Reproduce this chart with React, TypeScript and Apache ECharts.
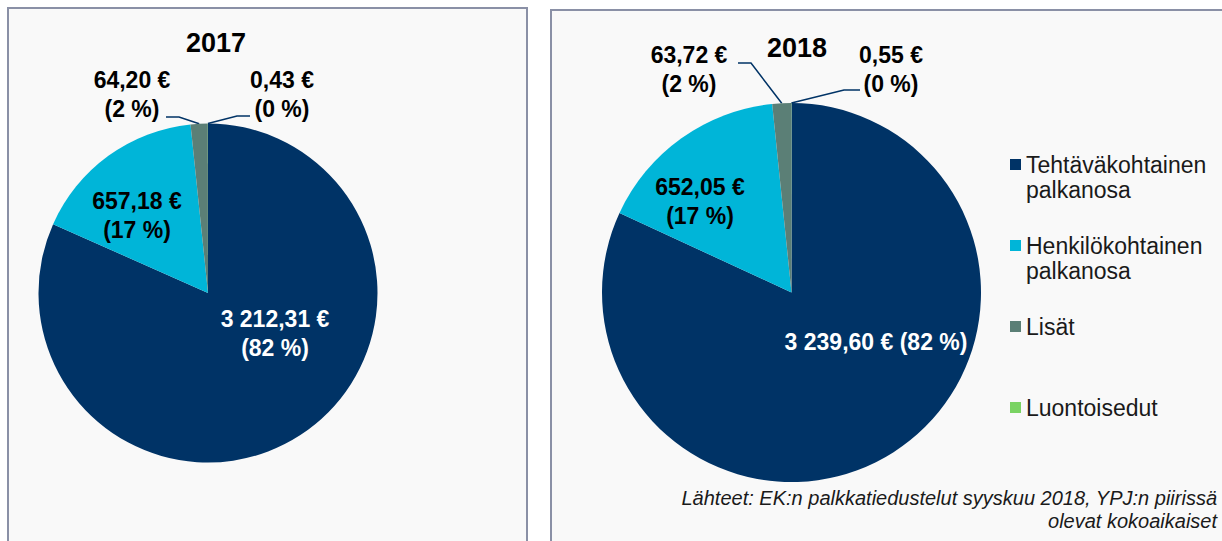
import React, { useEffect, useRef } from 'react';
import * as echarts from 'echarts';

// ---- data ----
const CATEGORIES = ['Tehtäväkohtainen palkanosa', 'Henkilökohtainen palkanosa', 'Lisät', 'Luontoisedut'];
const YEARS = ['2017', '2018'];
const VALUES_2017 = [3212.31, 657.18, 64.2, 0.43];
const VALUES_2018 = [3239.6, 652.05, 63.72, 0.55];
const PERCENT_2017 = [82, 17, 2, 0];
const PERCENT_2018 = [82, 17, 2, 0];
const SOURCE_TEXT = 'Lähteet: EK:n palkkatiedustelut syyskuu 2018, YPJ:n piirissä\nolevat kokoaikaiset';

const VALUES = [VALUES_2017, VALUES_2018];
const PERCENTS = [PERCENT_2017, PERCENT_2018];

// ---- styling / layout ----
const COLORS = ['#003366', '#00b5d8', '#5b7f76', '#7ad363'];
const FONT = '"Liberation Sans", Arial, Helvetica, sans-serif';
const LINE_COLOR = '#003366';
const PIES = [
  { center: [208, 293], radius: 169.5, title: [216, 43] },
  { center: [791.5, 292.5], radius: 189.5, title: [797, 48] },
];
const LABEL_POS = [
  [[275, 333], [137, 215], [132, 94], [282, 94]],
  [[876, 342], [700, 201], [689, 69], [891, 69]],
];
const LEADERS: (number[][] | null)[][] = [
  [null, null, [[179, 117], [166, 117]], [[237, 116], [250, 116]]],
  [null, null, [[751, 63], [738, 63]], [[844, 90], [860, 90]]],
];
const SINGLE_LINE = [[false, false, false, false], [true, false, false, false]];

function fmtEuro(v: number): string {
  const [i, d] = v.toFixed(2).split('.');
  return i.replace(/\B(?=(\d{3})+(?!\d))/g, ' ') + ',' + d + ' €';
}

// legend text: first line centred on the marker (3-line block, middle line = first text line)
function legendText(n: string): string {
  return n.includes(' ') ? '\n' + n.replace(' ', '\n') : '\n' + n + '\n';
}

export default function App() {
  const ref = useRef<HTMLDivElement>(null);
  useEffect(() => {
    document.body.style.margin = '0';
    if (!ref.current) return;
    const chart = echarts.init(ref.current, null, { renderer: 'svg' });

    const series = YEARS.map((year, s) => ({
      type: 'pie',
      name: year,
      center: PIES[s].center,
      radius: PIES[s].radius,
      startAngle: 90,
      clockwise: true,
      avoidLabelOverlap: false,
      minShowLabelAngle: 0,
      silent: true,
      z: 2,
      emphasis: { disabled: true },
      itemStyle: { borderWidth: 0 },
      label: {
        show: true,
        fontFamily: FONT,
        fontSize: 23,
        fontWeight: 'bold',
        lineHeight: 29,
        color: '#000',
        overflow: 'none',
        formatter: (p: any) => {
          const val = fmtEuro(p.value);
          const pct = '(' + PERCENTS[s][p.dataIndex] + ' %)';
          return SINGLE_LINE[s][p.dataIndex] ? val + ' ' + pct : val + '\n' + pct;
        },
      },
      labelLine: {
        show: false,
        smooth: false,
        length: 10,
        length2: 10,
        lineStyle: { color: LINE_COLOR, width: 1.5 },
      },
      labelLayout: (p: any) => {
        const pos = LABEL_POS[s][p.dataIndex];
        const lead = LEADERS[s][p.dataIndex];
        const out: any = { x: pos[0], y: pos[1], align: 'center', verticalAlign: 'middle' };
        if (lead && p.labelLinePoints) {
          out.labelLinePoints = [p.labelLinePoints[0], lead[0], lead[1]];
        }
        return out;
      },
      data: CATEGORIES.map((name, i) => ({
        name,
        value: VALUES[s][i],
        itemStyle: { color: COLORS[i] },
        label: { position: i < 2 ? 'inside' : 'outside', color: i === 0 ? '#ffffff' : '#000000' },
        labelLine: { show: i >= 2 },
      })),
    }));

    const panelStyle = { fill: '#f9f9f9', stroke: '#8a90a6', lineWidth: 2 };

    chart.setOption({
      animation: false,
      backgroundColor: '#ffffff',
      legend: {
        orient: 'vertical',
        left: 1010,
        top: 127,
        padding: 0,
        itemWidth: 11,
        itemHeight: 11,
        itemGap: 6,
        icon: 'rect',
        selectedMode: false,
        data: CATEGORIES,
        formatter: legendText,
        textStyle: {
          fontFamily: FONT,
          fontSize: 23,
          color: '#1a1a1a',
          lineHeight: 25,
          backgroundColor: 'rgba(0,0,0,0)',
        },
      },
      graphic: [
        { type: 'rect', z: 0, silent: true, shape: { x: 8, y: 8, width: 519, height: 560 }, style: panelStyle },
        { type: 'rect', z: 0, silent: true, shape: { x: 551, y: 10, width: 700, height: 560 }, style: panelStyle },
        ...YEARS.map((y, s) => ({
          type: 'text',
          z: 10,
          x: PIES[s].title[0],
          y: PIES[s].title[1],
          style: {
            text: y,
            align: 'center',
            verticalAlign: 'middle',
            fontFamily: FONT,
            fontSize: 27,
            fontWeight: 'bold',
            fill: '#000',
          },
        })),
        {
          type: 'text',
          z: 10,
          x: 1217,
          y: 509,
          style: {
            text: SOURCE_TEXT,
            align: 'right',
            verticalAlign: 'middle',
            fontFamily: FONT,
            fontSize: 20,
            fontStyle: 'italic',
            lineHeight: 23,
            fill: '#1a1a1a',
          },
        },
      ],
      series,
    });

    return () => chart.dispose();
  }, []);

  return (
    <div
      ref={ref}
      style={{ width: 1222, height: 541, position: 'absolute', left: 0, top: 0 }}
    />
  );
}
